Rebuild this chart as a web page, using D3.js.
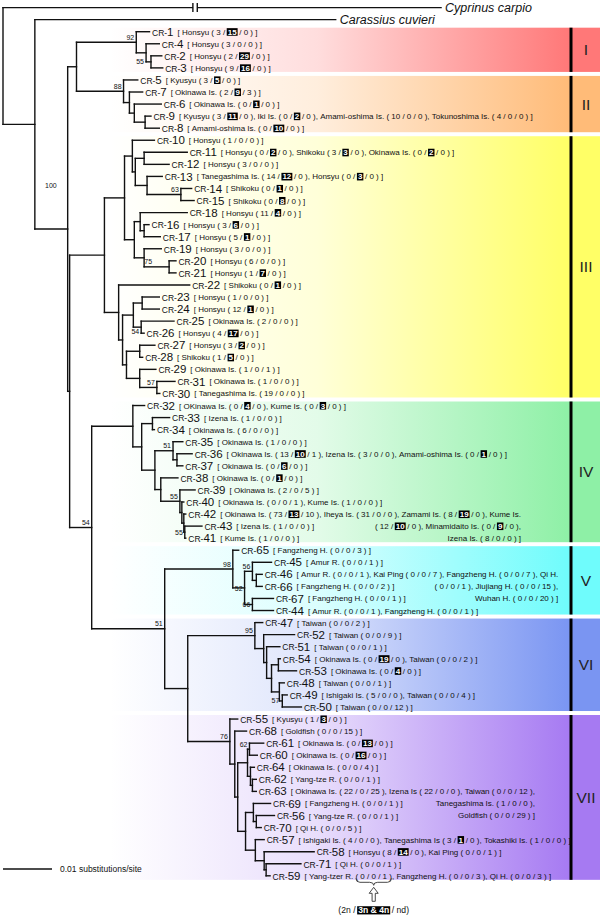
<!DOCTYPE html>
<html>
<head>
<meta charset="utf-8">
<script src="https://cdn.jsdelivr.net/npm/d3@7"></script>
<style>
html,body{margin:0;padding:0;background:#fff;}
svg{display:block;font-family:"Liberation Sans",Arial,Helvetica,sans-serif;}
text{white-space:pre;}
</style>
</head>
<body>
<svg id="chart" width="600" height="916"></svg>
<script>
// ================= DATA =================
// Tree edges: [node, parent, branch length in 0.001 substitutions/site]
const backboneEdges = [
  ["root", null, 0],
  ["Cyprinus carpio", "root", 89.4],
  ["nA", "root", 6.5],
  ["Carassius cuvieri", "nA", 61.4],
  ["nB", "nA", 6.7],
  ["nI_II", "nB", 1.8],
  ["nC", "nB", 0.4],
  ["nIII", "nC", 7.1],
  ["nD", "nC", 4.5],
  ["nIV", "nD", 8.4],
  ["nE", "nD", 14.9],
  ["nV", "nE", 13.9],
  ["nF", "nE", 4.7],
  ["nVI", "nF", 13.7],
  ["nVII", "nF", 8.6]
];
const cladeIEdges = [
  ["nI","nI_II",12.2],["CR-1","nI",2.7],["nIa","nI",2.0],["CR-4","nIa",2.7],
  ["nIb","nIa",1.0],["CR-2","nIb",2.2],["CR-3","nIb",2.4]
];
const cladeIIEdges = [
  ["nII","nI_II",9.6],["CR-5","nII",2.9],["nIIa","nII",1.2],["CR-7","nIIa",2.7],
  ["nIIb","nIIa",1.0],["CR-6","nIIb",5.5],["nIIc","nIIb",2.2],["CR-9","nIIc",1.2],["CR-8","nIIc",2.9]
];
const cladeIIIEdges = [
  ["nIIIa","nIII",4.1],["nR3a","nIIIa",1.6],["CR-10","nR3a",4.5],["nR3b","nR3a",0.6],
  ["n11","nR3b",1.8],["CR-11","n11",8.8],["CR-12","n11",5.1],["n13","nR3b",2.4],["CR-13","n13",3.1],
  ["n63","n13",6.9],["CR-14","n63",2.2],["CR-15","n63",2.7],
  ["nR3c","nIIIa",2.0],["n18","nR3c",1.2],["CR-18","n18",9.6],["n16","n18",0.8],["CR-16","n16",1.0],
  ["CR-17","n16",3.3],["n19","nR3c",2.0],["CR-19","n19",3.5],["n75","n19",5.1],["CR-20","n75",1.4],["CR-21","n75",1.4],
  ["nQ","nIII",2.9],["CR-22","nQ",14.5],["nQ2","nQ",0.8],["nQ3","nQ2",2.2],["n23","nQ3",1.8],
  ["CR-23","n23",3.5],["CR-24","n23",3.5],["n54","nQ3",1.6],["CR-25","n54",6.7],["CR-26","n54",0.6],
  ["nQ4","nQ2",0.8],["n27","nQ4",2.7],["CR-27","n27",3.1],["CR-28","n27",0.6],["n29","nQ4",2.7],
  ["CR-29","n29",3.3],["n57","n29",3.5],["CR-31","n57",3.7],["CR-30","n57",0.6]
];
const cladeIVEdges = [
  ["CR-32","nIV",2.4],["nIV2","nIV",1.8],["n33","nIV2",2.2],["CR-33","n33",3.5],["CR-34","n33",0.4],
  ["nIV3","nIV2",2.7],["n51","nIV3",3.7],["CR-35","n51",2.0],["n36","n51",0.8],["CR-36","n36",3.1],
  ["CR-37","n36",1.2],["nIV4","nIV3",1.2],["CR-38","nIV4",3.5],["n55a","nIV4",3.9],["CR-39","n55a",3.1],
  ["n40","n55a",0.4],["CR-40","n40",0.4],["n42","n40",0.4],["CR-42","n42",0.4],["n55b","n42",0.2],
  ["CR-43","n55b",3.5],["CR-41","n55b",0.2]
];
const cladeVEdges = [
  ["CR-65","nV",1.2],["n52","nV",2.4],["n56","n52",1.6],["CR-45","n56",3.9],["n46","n56",0.8],
  ["CR-46","n46",1.2],["CR-66","n46",1.2],["n66","n52",1.6],["CR-67","n66",4.3],["CR-44","n66",4.3]
];
const cladeVIEdges = [
  ["CR-47","nVI",1.6],["n52b","nVI",1.8],["CR-52","n52b",6.3],["n51b","n52b",0.6],["CR-51","n51b",2.7],
  ["n5453p","n51b",1.0],["n54b","n5453p",1.4],["CR-54","n54b",0.4],["CR-53","n54b",3.7],
  ["n48","n5453p",1.6],["CR-48","n48",1.0],["n57b","n48",0.6],["CR-49","n57b",1.0],["CR-50","n57b",3.9]
];
const cladeVIIEdges = [
  ["CR-55","nVII",1.6],["nG","nVII",1.0],["CR-68","nG",2.4],["nH","nG",0.6],["nI7","nH",2.0],
  ["n62","nI7",0.4],["CR-61","n62",2.9],["CR-60","n62",1.6],["nI7b","nI7",0.6],["CR-64","nI7b",0.8],
  ["nI7c","nI7b",0.4],["CR-62","nI7c",0.8],["CR-63","nI7c",0.8],["nJ","nH",1.6],["nK","nJ",1.6],
  ["CR-69","nK",3.5],["nK2","nK",0.6],["CR-56","nK2",3.7],["CR-70","nK2",1.0],["nL","nJ",2.0],
  ["CR-57","nL",1.8],["nM","nL",1.8],["CR-58","nM",10.2],["nN","nM",0.4],["CR-71","nN",7.1],["CR-59","nN",0.8]
];

// Bootstrap support values
const supportValues = [
  ["nB",100],["nI",92],["nIb",55],["nII",88],["n63",63],["n75",75],["n54",54],["n57",57],
  ["nD",54],["n51",51],["n55a",55],["n55b",55],["nE",51],["nV",98],["n56",56],["n52",52],
  ["n66",66],["nVI",95],["n57b",57],["nVII",76],["n62",62]
];

// Localities: [place, 2n, 3n&4n, nd]
const sitesI = [
  ["CR-1", [["Honsyu",3,15,0]]],
  ["CR-4", [["Honsyu",3,0,0]]],
  ["CR-2", [["Honsyu",2,29,0]]],
  ["CR-3", [["Honsyu",9,16,0]]]
];
const sitesII = [
  ["CR-5", [["Kyusyu",3,5,0]]],
  ["CR-7", [["Okinawa Is.",2,9,3]]],
  ["CR-6", [["Okinawa Is.",0,1,0]]],
  ["CR-9", [["Kyusyu",3,11,0],["Iki Is.",0,2,0],["Amami-oshima Is.",10,0,0],["Tokunoshima Is.",4,0,0]]],
  ["CR-8", [["Amami-oshima Is.",0,10,0]]]
];
const sitesIII = [
  ["CR-10", [["Honsyu",1,0,0]]],
  ["CR-11", [["Honsyu",0,2,0],["Shikoku",3,3,0],["Okinawa Is.",0,2,0]]],
  ["CR-12", [["Honsyu",3,0,0]]],
  ["CR-13", [["Tanegashima Is.",14,12,0],["Honsyu",0,3,0]]],
  ["CR-14", [["Shikoku",0,1,0]]],
  ["CR-15", [["Shikoku",0,8,0]]],
  ["CR-18", [["Honsyu",11,4,0]]],
  ["CR-16", [["Honsyu",3,6,0]]],
  ["CR-17", [["Honsyu",5,1,0]]],
  ["CR-19", [["Honsyu",3,0,0]]],
  ["CR-20", [["Honsyu",6,0,0]]],
  ["CR-21", [["Honsyu",1,7,0]]],
  ["CR-22", [["Shikoku",0,1,0]]],
  ["CR-23", [["Honsyu",1,0,0]]],
  ["CR-24", [["Honsyu",12,1,0]]],
  ["CR-25", [["Okinawa Is.",2,0,0]]],
  ["CR-26", [["Honsyu",4,17,0]]],
  ["CR-27", [["Honsyu",3,2,0]]],
  ["CR-28", [["Shikoku",1,5,0]]],
  ["CR-29", [["Okinawa Is.",1,0,1]]],
  ["CR-31", [["Okinawa Is.",1,0,0]]],
  ["CR-30", [["Tanegashima Is.",19,0,0]]]
];
const sitesIV = [
  ["CR-32", [["OKinawa Is.",0,4,0],["Kume Is.",0,3,0]]],
  ["CR-33", [["Izena Is.",1,0,0]]],
  ["CR-34", [["Okinawa Is.",6,0,0]]],
  ["CR-35", [["Okinawa Is.",1,0,0]]],
  ["CR-36", [["Okinawa Is.",13,10,1],["Izena Is.",3,0,0],["Amami-oshima Is.",0,1,0]]],
  ["CR-37", [["Okinawa Is.",0,6,0]]],
  ["CR-38", [["Okinawa Is.",0,1,0]]],
  ["CR-39", [["Okinawa Is.",2,0,5]]],
  ["CR-40", [["Okinawa Is.",0,0,1],["Kume Is.",1,0,0]]],
  ["CR-42", [["Okinawa Is.",73,13,10],["Iheya Is.",31,0,0],["Zamami Is.",8,19,0],["Kume Is.",12,10,0],["Minamidaito Is.",0,9,0],["Izena Is.",8,0,0]]],
  ["CR-43", [["Izena Is.",1,0,0]]],
  ["CR-41", [["Kume Is.",1,0,0]]]
];
const sitesV = [
  ["CR-65", [["Fangzheng H.",0,0,3]]],
  ["CR-45", [["Amur R.",0,0,1]]],
  ["CR-46", [["Amur R.",0,0,1],["Kai Ping",0,0,7],["Fangzheng H.",0,0,7],["Qi H.",0,0,1],["Jiujiang H.",0,0,15],["Wuhan H.",0,0,20]]],
  ["CR-66", [["Fangzheng H.",0,0,2]]],
  ["CR-67", [["Fangzheng H.",0,0,1]]],
  ["CR-44", [["Amur R.",0,0,1],["Fangzheng H.",0,0,1]]]
];
const sitesVI = [
  ["CR-47", [["Taiwan",0,0,2]]],
  ["CR-52", [["Taiwan",0,0,9]]],
  ["CR-51", [["Taiwan",0,0,1]]],
  ["CR-54", [["Okinawa Is.",0,19,0],["Taiwan",0,0,2]]],
  ["CR-53", [["Okinawa Is.",0,4,0]]],
  ["CR-48", [["Taiwan",0,0,1]]],
  ["CR-49", [["Ishigaki Is.",5,0,0],["Taiwan",0,0,4]]],
  ["CR-50", [["Taiwan",0,0,12]]]
];
const sitesVII = [
  ["CR-55", [["Kyusyu",1,3,0]]],
  ["CR-68", [["Goldfish",0,0,15]]],
  ["CR-61", [["Okinawa Is.",0,13,0]]],
  ["CR-60", [["Okinawa Is.",0,16,0]]],
  ["CR-64", [["Okinawa Is.",0,0,4]]],
  ["CR-62", [["Yang-tze R.",0,0,1]]],
  ["CR-63", [["Okinawa Is.",22,0,25],["Izena Is",22,0,0],["Taiwan",0,0,12],["Tanegashima Is.",1,0,0],["Goldfish",0,0,29]]],
  ["CR-69", [["Fangzheng H.",0,0,1]]],
  ["CR-56", [["Yang-tze R.",0,0,1]]],
  ["CR-70", [["Qi H.",0,0,5]]],
  ["CR-57", [["Ishigaki Is.",4,0,0],["Tanegashima Is",3,1,0],["Tokashiki Is.",1,0,0]]],
  ["CR-58", [["Honsyu",8,14,0],["Kai Ping",0,0,1]]],
  ["CR-71", [["Qi H.",0,0,1]]],
  ["CR-59", [["Yang-tzer R.",0,0,1],["Fangzheng H.",0,0,3],["Qi H.",0,0,3]]]
];
// label wraps: [leaf, place, break after "name" or "entry"]
const labelWraps = [
  ["CR-42","Kume Is.","name"],["CR-42","Minamidaito Is.","entry"],
  ["CR-46","Qi H.","name"],["CR-46","Jiujiang H.","entry"],
  ["CR-63","Taiwan","entry"],["CR-63","Tanegashima Is.","entry"]
];
// clades: [numeral, first leaf, last leaf]
const clades = [
  ["I","CR-1","CR-3"],["II","CR-5","CR-8"],["III","CR-10","CR-30"],["IV","CR-32","CR-41"],
  ["V","CR-65","CR-44"],["VI","CR-47","CR-50"],["VII","CR-55","CR-59"]
];
const legendParts = ["2n", "3n & 4n", "nd"];
const legendTarget = ["CR-59", 0];
const scaleBarValue = 10;           // 0.01 substitutions/site
const scaleBarLabel = "0.01 substitutions/site";
const outgroupBreakAt = 39.2;

// ================= STYLE =================
const cladeColors = ["#ff7878","#ffbb78","#ffff66","#8ef0a6","#6ffcfc","#7a95f2","#a67af2"];
const supportOffsets = {nB:[-11,-41], nIb:[-7,2.5], n75:[-17,-2.5], n54:[-2,7], n55b:[-2,2.5], n52:[-2,3], n66:[-2,3], n57b:[-3,2.5]};
const INK = "#111";

// ================= BUILD =================
const svg = d3.select("#chart");
const defs = svg.append("defs");
const allEdges = [...backboneEdges, ...cladeIEdges, ...cladeIIEdges, ...cladeIIIEdges,
  ...cladeIVEdges, ...cladeVEdges, ...cladeVIEdges, ...cladeVIIEdges];
const root = d3.stratify().id(d => d[0]).parentId(d => d[1])(allEdges);
root.eachBefore(n => { n.dist = n.parent ? n.parent.dist + n.data[2] : 0; });
const leaves = root.leaves();
const xScale = d3.scaleLinear().domain([0, 90]).range([3, 444]);
const yScale = d3.scalePoint().domain(leaves.map(d => d.id)).range([7.6, 875.8]);
leaves.forEach(l => { l.y = yScale(l.id); });
root.eachAfter(n => { if (n.children) n.y = (n.children[0].y + n.children[n.children.length - 1].y) / 2; });
const byId = new Map(root.descendants().map(n => [n.id, n]));

// ----- clade bands -----
const step = yScale.step();
const gBands = svg.append("g");
clades.forEach(([name, first, last], i) => {
  const color = cladeColors[i];
  const top = yScale(first) - step / 2 + 2, bottom = yScale(last) + step / 2 - 2;
  const gid = "grad" + i;
  const grad = defs.append("linearGradient").attr("id", gid).attr("gradientUnits", "userSpaceOnUse")
    .attr("x1", 110).attr("x2", 570).attr("y1", 0).attr("y2", 0);
  grad.append("stop").attr("offset", 0).attr("stop-color", color).attr("stop-opacity", 0);
  grad.append("stop").attr("offset", 0.45).attr("stop-color", color).attr("stop-opacity", 0.25);
  grad.append("stop").attr("offset", 1).attr("stop-color", color).attr("stop-opacity", 1);
  gBands.append("rect").attr("x", 0).attr("y", top).attr("width", 570).attr("height", bottom - top).attr("fill", `url(#${gid})`);
  gBands.append("rect").attr("x", 570).attr("y", top).attr("width", 30).attr("height", bottom - top).attr("fill", color);
  gBands.append("rect").attr("x", 569.5).attr("y", top).attr("width", 3).attr("height", bottom - top).attr("fill", "#000");
  gBands.append("text").attr("x", 586).attr("y", (top + bottom) / 2 + 5.5).attr("text-anchor", "middle")
    .attr("font-size", 15.5).attr("fill", "#222").text(name);
});

// ----- tree branches -----
const gTree = svg.append("g").attr("stroke", INK).attr("stroke-width", 1.4).attr("fill", "none").attr("stroke-linecap", "square");
root.descendants().forEach(n => {
  const x = xScale(n.dist);
  if (n.parent) gTree.append("line").attr("x1", xScale(n.parent.dist)).attr("x2", x).attr("y1", n.y).attr("y2", n.y);
  if (n.children) gTree.append("line").attr("x1", x).attr("x2", x)
    .attr("y1", n.children[0].y).attr("y2", n.children[n.children.length - 1].y);
});
// break on long outgroup branch
{
  const cy = byId.get("Cyprinus carpio");
  const bx = xScale(outgroupBreakAt);
  svg.append("rect").attr("x", bx - 2).attr("y", cy.y - 2).attr("width", 4).attr("height", 4).attr("fill", "#fff");
  [-2.2, 2.2].forEach(d => svg.append("line").attr("x1", bx + d).attr("x2", bx + d)
    .attr("y1", cy.y - 4.5).attr("y2", cy.y + 4.5).attr("stroke", INK).attr("stroke-width", 1.4));
}
// outgroup labels
["Cyprinus carpio", "Carassius cuvieri"].forEach(id => {
  const n = byId.get(id);
  svg.append("text").attr("x", xScale(n.dist) + 4).attr("y", n.y + 4.5).attr("font-size", 12.5)
    .attr("font-style", "italic").attr("fill", INK).text(id);
});

// ----- support values -----
const gSup = svg.append("g").attr("font-size", 7).attr("fill", INK).attr("text-anchor", "end");
supportValues.forEach(([id, v]) => {
  const n = byId.get(id);
  const off = supportOffsets[id] || [-2, -2.5];
  gSup.append("text").attr("x", xScale(n.dist) + off[0]).attr("y", n.y + off[1]).text(v);
});

// ----- leaf labels -----
const allSites = [...sitesI, ...sitesII, ...sitesIII, ...sitesIV, ...sitesV, ...sitesVI, ...sitesVII];
const entryRanges = new Map();
const gLab = svg.append("g").attr("fill", INK);

function buildLines(id, entries) {
  const lines = [[]];
  let line = lines[0];
  const push = s => line.push(s);
  push({ t: "[ " });
  entries.forEach((e, i) => {
    const [place, a, b, c] = e;
    const brName = labelWraps.some(w => w[0] === id && w[1] === place && w[2] === "name");
    const brEntry = labelWraps.some(w => w[0] === id && w[1] === place && w[2] === "entry");
    push({ t: place + (brName ? "" : " ") });
    if (brName) { line = []; lines.push(line); }
    push({ t: "( " + a + " /", open: i });
    if (b > 0) push({ box: String(b) }); else push({ t: " " + b + " " });
    push({ t: "/ " + c + " )", close: i });
    if (i < entries.length - 1) {
      push({ t: brEntry ? "," : ", " });
      if (brEntry) { line = []; lines.push(line); }
    } else push({ t: " ]" });
  });
  return lines;
}
function renderSegs(g, segs, baseline, fs, rec) {
  let cx = 0;
  segs.forEach(s => {
    if (s.open !== undefined) rec.push(["open", s.open, cx]);
    if (s.box !== undefined) {
      cx += 1.6;
      const t = g.append("text").attr("x", cx + 1).attr("y", baseline).attr("font-size", fs)
        .attr("font-weight", "bold").attr("fill", "#fff").text(s.box);
      const w = t.node().getComputedTextLength();
      g.insert("rect", "text").attr("x", cx).attr("y", baseline - fs * 0.82).attr("width", w + 2)
        .attr("height", fs * 0.95).attr("fill", "#000");
      cx += w + 2 + 1.6;
    } else {
      const t = g.append("text").attr("x", cx).attr("y", baseline).attr("font-size", fs).text(s.t);
      cx += t.node().getComputedTextLength();
    }
    if (s.close !== undefined) rec.push(["close", s.close, cx]);
  });
  return cx;
}
allSites.forEach(([id, entries]) => {
  const n = byId.get(id);
  const x0 = xScale(n.dist) + 2.5, y = n.y;
  const g = gLab.append("g");
  const [pre, num] = id.split("-");
  const t1 = g.append("text").attr("x", x0).attr("y", y + 3.8).attr("font-size", 8.5).text(pre + "-");
  let cx = x0 + t1.node().getComputedTextLength();
  const t2 = g.append("text").attr("x", cx).attr("y", y + 4.1).attr("font-size", 11.5).text(num);
  cx += t2.node().getComputedTextLength() + 4;
  const lines = buildLines(id, entries);
  let endFirst = 0;
  const ranges = [];
  lines.forEach((segs, k) => {
    const lg = g.append("g");
    const rec = [];
    const w = renderSegs(lg, segs, y + 3, 8, rec);
    let tx;
    if (k === 0) { tx = cx; endFirst = cx + w; }
    else tx = endFirst - w;
    lg.attr("transform", `translate(${tx},${12 * k})`);
    rec.forEach(r => ranges.push([r[0], r[1], r[2] + tx, y + 12 * k]));
  });
  entryRanges.set(id, ranges);
});

// ----- legend brace / arrow -----
{
  const rr = entryRanges.get(legendTarget[0]);
  const o = rr.find(r => r[0] === "open" && r[1] === legendTarget[1]);
  const c = rr.find(r => r[0] === "close" && r[1] === legendTarget[1]);
  const x1 = o[2] + 0.5, x2 = c[2] - 0.5, mx = (x1 + x2) / 2, y0 = o[3] + 2.5;
  svg.append("path").attr("fill", "none").attr("stroke", "#333").attr("stroke-width", 0.9)
    .attr("d", `M${x1},${y0} Q${x1},${y0 + 4} ${x1 + 4},${y0 + 4} L${mx - 4},${y0 + 4} Q${mx},${y0 + 4} ${mx},${y0 + 7}
      Q${mx},${y0 + 4} ${mx + 4},${y0 + 4} L${x2 - 4},${y0 + 4} Q${x2},${y0 + 4} ${x2},${y0}`);
  const ay = y0 + 9;
  svg.append("path").attr("fill", "#fff").attr("stroke", "#333").attr("stroke-width", 0.9)
    .attr("d", `M${mx},${ay} L${mx + 4.5},${ay + 6} L${mx + 1.6},${ay + 6} L${mx + 1.6},${ay + 14}
      L${mx - 1.6},${ay + 14} L${mx - 1.6},${ay + 6} L${mx - 4.5},${ay + 6} Z`);
  const lg = svg.append("g").attr("fill", INK);
  const segs = [{ t: "(" + legendParts[0] + " /" }, { box: legendParts[1] }, { t: "/ " + legendParts[2] + ")" }];
  const w = renderSegs(lg, segs, 0, 8.6, []);
  lg.attr("transform", `translate(${mx - w / 2},${ay + 26})`);
}

// ----- scale bar -----
{
  const y = 869;
  svg.append("line").attr("x1", xScale(0)).attr("x2", xScale(scaleBarValue)).attr("y1", y).attr("y2", y)
    .attr("stroke", INK).attr("stroke-width", 1.4);
  svg.append("text").attr("x", xScale(scaleBarValue) + 8).attr("y", y + 3).attr("font-size", 8.5)
    .attr("fill", INK).text(scaleBarLabel);
}
</script>
</body>
</html>
